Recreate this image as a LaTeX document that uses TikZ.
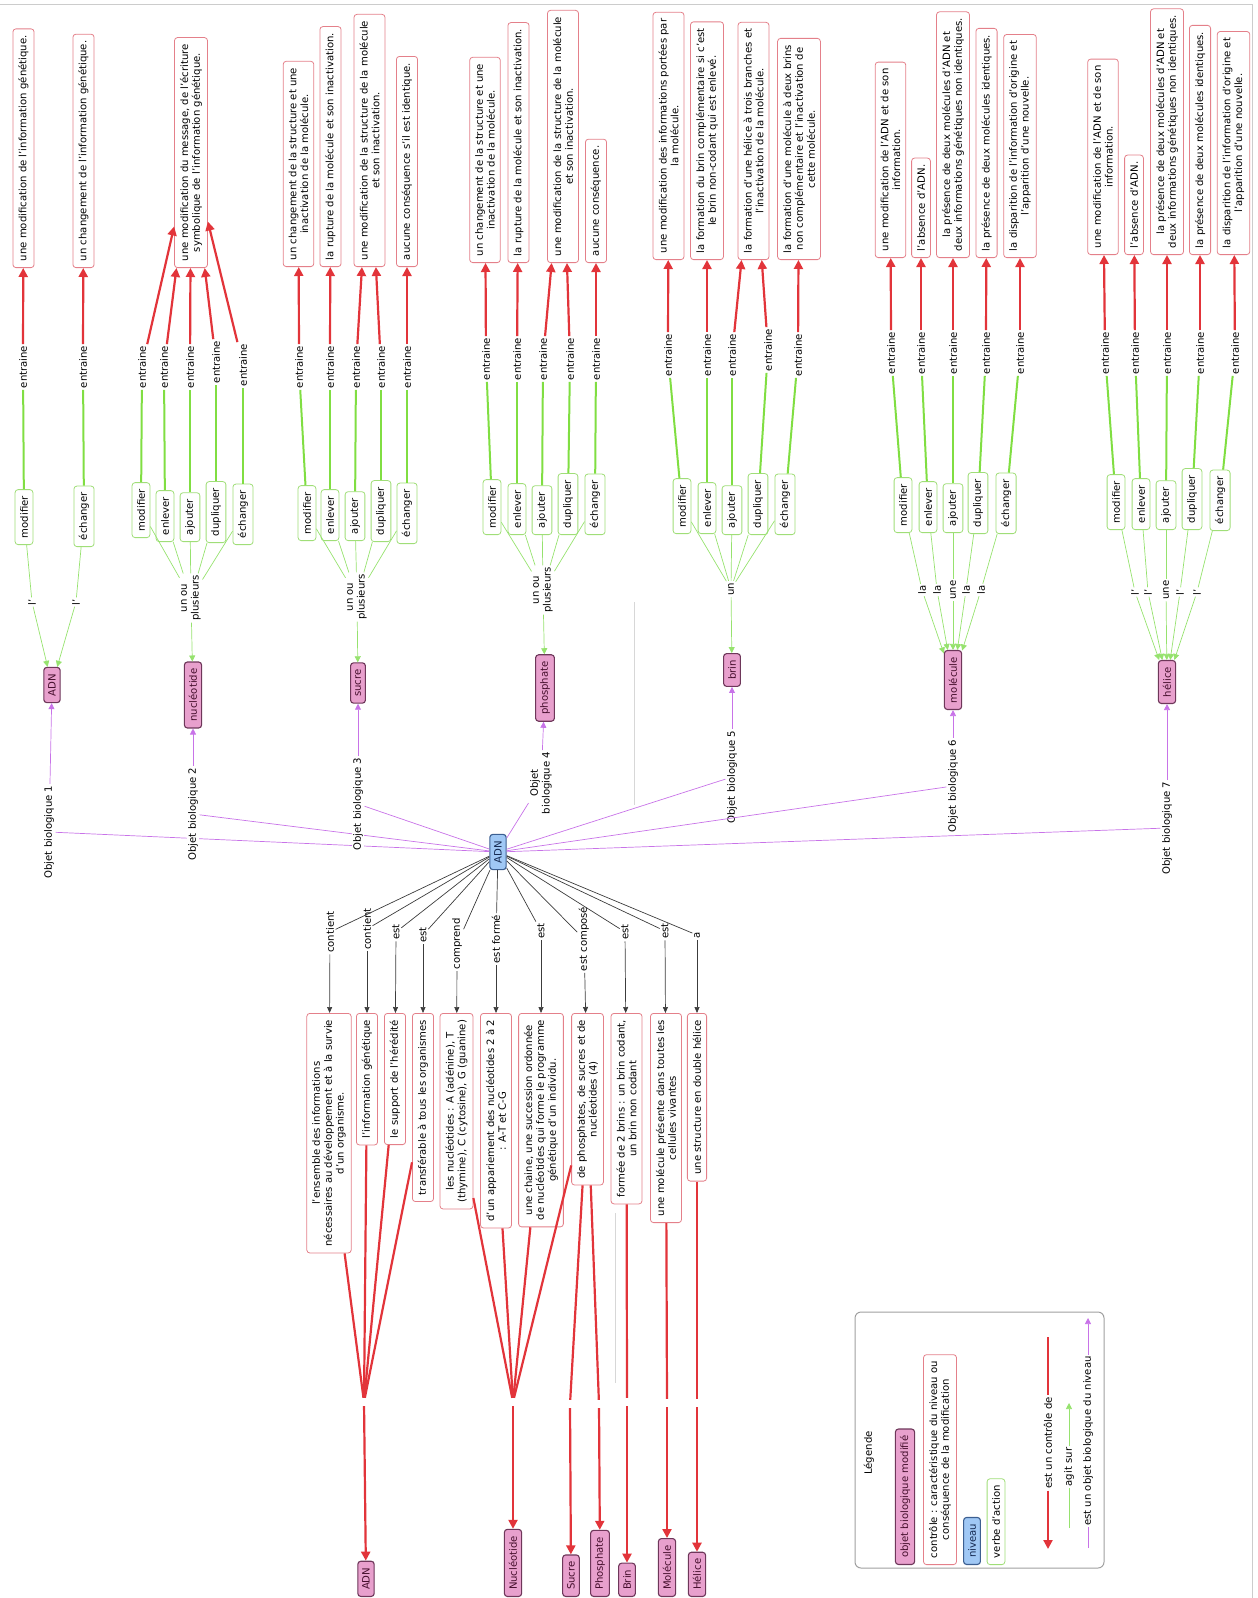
\documentclass[tikz,border=0pt]{standalone}
\usepackage{fontspec}
\setmainfont{DejaVu Sans}
\usetikzlibrary{arrows.meta}
\definecolor{consred}{RGB}{228,128,138}
\definecolor{verbgreen}{RGB}{160,222,120}
\definecolor{objpink}{RGB}{232,160,205}
\definecolor{objborder}{RGB}{110,55,90}
\definecolor{objtext}{RGB}{70,15,45}
\definecolor{lvlblue}{RGB}{160,200,245}
\definecolor{lvlborder}{RGB}{60,95,145}
\definecolor{lvltext}{RGB}{20,40,80}
\definecolor{redc}{RGB}{226,52,58}
\definecolor{greenc}{RGB}{128,222,66}
\definecolor{greenl}{RGB}{150,226,110}
\definecolor{purplec}{RGB}{200,115,232}
\definecolor{blackc}{RGB}{60,60,60}
\definecolor{faint}{RGB}{215,215,215}
\newcommand\myfs{\fontsize{10.1}{11.8}\selectfont}
\begin{document}
\begin{tikzpicture}[x=1pt,y=-1pt,
  every node/.style={font=\myfs},
  cons/.style={rotate=90, draw=consred, fill=white, rounded corners=3pt, line width=0.8pt, inner xsep=6.5pt, inner ysep=5.5pt, align=center},
  verb/.style={rotate=90, draw=verbgreen, fill=white, rounded corners=3pt, line width=0.8pt, inner xsep=6.5pt, inner ysep=5pt, anchor=west},
  obj/.style={rotate=90, draw=objborder, fill=objpink, text=objtext, rounded corners=3pt, line width=1.1pt, inner xsep=6.5pt, inner ysep=4.5pt},
  lvl/.style={rotate=90, draw=lvlborder, fill=lvlblue, text=lvltext, rounded corners=3pt, line width=1.1pt, inner xsep=6.5pt, inner ysep=4.5pt},
  lab/.style={rotate=90, fill=white, inner sep=1.5pt, align=center},
  junc/.style={inner sep=0pt, minimum size=8pt},
  rline/.style={draw=redc, line width=2.2pt},
  rarrow/.style={rline, -{Triangle[length=9pt,width=9pt]}},
  gthick/.style={draw=greenc, line width=2pt},
  gthin/.style={draw=greenl, line width=0.7pt},
  garrow/.style={gthin, -{Triangle[length=6pt,width=6pt]}},
  pline/.style={draw=purplec, line width=0.7pt},
  parrow/.style={pline, -{Triangle[length=6pt,width=6pt]}},
  kline/.style={draw=blackc, line width=0.7pt},
  karrow/.style={kline, -{Triangle[length=6pt,width=5pt]}}
]
\useasboundingbox (0,0) rectangle (1258,1598);
% frame lines
\draw[draw=gray!40, line width=0.8pt] (0,4) -- (1252,4) -- (1252,1598);
\draw[draw=faint, line width=0.8pt] (634,602) -- (634,805);
\draw[draw=faint, line width=0.8pt] (615,1213) -- (615,1383);

% ================= central level
\node[lvl] (adn) at (498,852) {ADN};

% ================= Group 1
\node[cons, anchor=west] (c11) at (23.5,268) {une modification de l'information génétique.};
\node[cons, anchor=west] (c12) at (83.5,268) {un changement de l'information génétique.};
\node[lab] (e11) at (23,367) {entraine};
\node[lab] (e12) at (83,367) {entraine};
\node[verb] (v11) at (24,545) {modifier};
\node[verb] (v12) at (84,547) {échanger};
\node[lab] (l11) at (32,602) {l'};
\node[lab] (l12) at (76,602) {l'};
\node[obj] (o1) at (52,685) {ADN};
\node[lab] (ob1) at (49,832) {Objet biologique 1};
\draw[rarrow] (e11) -- (c11);
\draw[rarrow] (e12) -- (c12);
\draw[gthick] (v11) -- (e11);
\draw[gthick] (v12) -- (e12);
\draw[gthin] (v11) -- (l11);
\draw[gthin] (v12) -- (l12);
\draw[garrow] (l11) -- (o1);
\draw[garrow] (l12) -- (o1);
\draw[pline] (adn) -- (ob1);
\draw[parrow] (ob1) -- (o1);

% ================= Group 2
\node[cons, anchor=west] (c2) at (191,268) {une modification du message, de l'écriture\\symbolique de l'information génétique.};
\node[lab] (e21) at (142,367) {entraine};
\node[lab] (e22) at (164,367) {entraine};
\node[lab] (e23) at (190,367) {entraine};
\node[lab] (e24) at (216,362) {entraine};
\node[lab] (e25) at (243,365) {entraine};
\node[verb] (v21) at (141,538) {modifier};
\node[verb] (v22) at (165,542) {enlever};
\node[verb] (v23) at (190,542) {ajouter};
\node[verb] (v24) at (216,543) {dupliquer};
\node[verb] (v25) at (243,545) {échanger};
\node[lab] (u2) at (191,598) {un ou\\plusieurs};
\node[obj] (o2) at (193,695) {nucléotide};
\node[lab] (ob2) at (193,814) {Objet biologique 2};
\foreach \i in {1,...,5} {
  \draw[rarrow] (e2\i) -- (c2);
  \draw[gthick] (v2\i) -- (e2\i);
  \draw[gthin] (v2\i) -- (u2);
}
\draw[garrow] (u2) -- (o2);
\draw[pline] (adn) -- (ob2);
\draw[parrow] (ob2) -- (o2);

% ================= Group 3
\node[cons, anchor=west] (c31) at (298.5,267) {un changement de la structure et une\\inactivation de la molécule.};
\node[cons, anchor=west] (c32) at (330.5,267) {la rupture de la molécule et son inactivation.};
\node[cons, anchor=west] (c33) at (369.5,267) {une modification de la structure de la molécule\\et son inactivation.};
\node[cons, anchor=west] (c34) at (407,267) {aucune conséquence s'il est identique.};
\node[lab] (e31) at (299,367) {entraine};
\node[lab] (e32) at (330,367) {entraine};
\node[lab] (e33) at (356,367) {entraine};
\node[lab] (e34) at (381,367) {entraine};
\node[lab] (e35) at (407,367) {entraine};
\node[verb] (v31) at (307,541) {modifier};
\node[verb] (v32) at (330,541) {enlever};
\node[verb] (v33) at (355,541) {ajouter};
\node[verb] (v34) at (381,542) {dupliquer};
\node[verb] (v35) at (407,544) {échanger};
\node[lab] (u3) at (357,597) {un ou\\plusieurs};
\node[obj] (o3) at (358,683) {sucre};
\node[lab] (ob3) at (358,804) {Objet biologique 3};
\draw[rarrow] (e31) -- (c31);
\draw[rarrow] (e32) -- (c32);
\draw[rarrow] (e33) -- (c33);
\draw[rarrow] (e34) -- (c33);
\draw[rarrow] (e35) -- (c34);
\foreach \i in {1,...,5} {
  \draw[gthick] (v3\i) -- (e3\i);
  \draw[gthin] (v3\i) -- (u3);
}
\draw[garrow] (u3) -- (o3);
\draw[pline] (adn) -- (ob3);
\draw[parrow] (ob3) -- (o3);

% ================= Group 4
\node[cons, anchor=west] (c41) at (485,263) {un changement de la structure et une\\inactivation de la molécule.};
\node[cons, anchor=west] (c42) at (518.5,263) {la rupture de la molécule et son inactivation.};
\node[cons, anchor=west] (c43) at (563,263) {une modification de la structure de la molécule\\et son inactivation.};
\node[cons, anchor=west] (c44) at (596,263) {aucune conséquence.};
\node[lab] (e41) at (486,359) {entraine};
\node[lab] (e42) at (517,359) {entraine};
\node[lab] (e43) at (543,359) {entraine};
\node[lab] (e44) at (570,359) {entraine};
\node[lab] (e45) at (596,359) {entraine};
\node[verb] (v41) at (492,535) {modifier};
\node[verb] (v42) at (517,535) {enlever};
\node[verb] (v43) at (542,535) {ajouter};
\node[verb] (v44) at (568,535) {dupliquer};
\node[verb] (v45) at (595,535) {échanger};
\node[lab] (u4) at (543,590) {un ou\\plusieurs};
\node[obj] (o4) at (545,688) {phosphate};
\node[lab] (ob4) at (541,783) {Objet\\biologique 4};
\draw[rarrow] (e41) -- (c41);
\draw[rarrow] (e42) -- (c42);
\draw[rarrow] (e43) -- (c43);
\draw[rarrow] (e44) -- (c43);
\draw[rarrow] (e45) -- (c44);
\foreach \i in {1,...,5} {
  \draw[gthick] (v4\i) -- (e4\i);
  \draw[gthin] (v4\i) -- (u4);
}
\draw[garrow] (u4) -- (o4);
\draw[pline] (adn) -- (ob4);
\draw[parrow] (ob4) -- (o4);

% ================= Group 5
\node[cons, anchor=west] (c51) at (668.5,260) {une modification des informations portées par\\la molécule.};
\node[cons, anchor=west] (c52) at (707,260) {la formation du brin complémentaire si c'est\\le brin non-codant qui est enlevé.};
\node[cons, anchor=west] (c53) at (753.5,260) {la formation d'une hélice à trois branches et\\l'inactivation de la molécule.};
\node[cons, anchor=west] (c54) at (799,260) {la formation d'une molécule à deux brins\\non complémentaire et l'inactivation de\\cette molécule.};
\node[lab] (e51) at (668,355) {entraine};
\node[lab] (e52) at (707,355) {entraine};
\node[lab] (e53) at (732,355) {entraine};
\node[lab] (e54) at (768,350) {entraine};
\node[lab] (e55) at (798,355) {entraine};
\node[verb] (v51) at (682,534) {modifier};
\node[verb] (v52) at (707,534) {enlever};
\node[verb] (v53) at (732,535) {ajouter};
\node[verb] (v54) at (758,535) {dupliquer};
\node[verb] (v55) at (785,535) {échanger};
\node[lab] (u5) at (731,589) {un};
\node[obj] (o5) at (732,670) {brin};
\node[lab] (ob5) at (732,777) {Objet biologique 5};
\draw[rarrow] (e51) -- (c51);
\draw[rarrow] (e52) -- (c52);
\draw[rarrow] (e53) -- (c53);
\draw[rarrow] (e54) -- (c53);
\draw[rarrow] (e55) -- (c54);
\foreach \i in {1,...,5} {
  \draw[gthick] (v5\i) -- (e5\i);
  \draw[gthin] (v5\i) -- (u5);
}
\draw[garrow] (u5) -- (o5);
\draw[pline] (adn) -- (ob5);
\draw[parrow] (ob5) -- (o5);

% ================= Group 6
\node[cons, anchor=west] (c61) at (890.5,258) {une modification de l'ADN et de son\\information.};
\node[cons, anchor=west] (c62) at (921,258) {l'absence d'ADN.};
\node[cons, anchor=west] (c63) at (953,258) {la présence de deux molécules d'ADN et\\deux informations génétiques non identiques.};
\node[cons, anchor=west] (c64) at (986.5,258) {la présence de deux molécules identiques.};
\node[cons, anchor=west] (c65) at (1020,258) {la disparition de l'information d'origine et\\l'apparition d'une nouvelle.};
\node[lab] (e61) at (891,353) {entraine};
\node[lab] (e62) at (921,353) {entraine};
\node[lab] (e63) at (953,353) {entraine};
\node[lab] (e64) at (986,353) {entraine};
\node[lab] (e65) at (1020,353) {entraine};
\node[verb] (v61) at (903,533) {modifier};
\node[verb] (v62) at (928,533) {enlever};
\node[verb] (v63) at (953,533) {ajouter};
\node[verb] (v64) at (978,534) {dupliquer};
\node[verb] (v65) at (1006,534) {échanger};
\node[lab] (l61) at (922,590) {la};
\node[lab] (l62) at (937,590) {la};
\node[lab] (l63) at (953,590) {une};
\node[lab] (l64) at (966,590) {la};
\node[lab] (l65) at (981,590) {la};
\node[obj] (o6) at (953,680) {molécule};
\node[lab] (ob6) at (953,786) {Objet biologique 6};
\foreach \i in {1,...,5} {
  \draw[rarrow] (e6\i) -- (c6\i);
  \draw[gthick] (v6\i) -- (e6\i);
  \draw[gthin] (v6\i) -- (l6\i);
  \draw[garrow] (l6\i) -- (o6);
}
\draw[pline] (adn) -- (ob6);
\draw[parrow] (ob6) -- (o6);

% ================= Group 7
\node[cons, anchor=west] (c71) at (1103,255) {une modification de l'ADN et de son\\information.};
\node[cons, anchor=west] (c72) at (1134,255) {l'absence d'ADN.};
\node[cons, anchor=west] (c73) at (1167,255) {la présence de deux molécules d'ADN et\\deux informations génétiques non identiques.};
\node[cons, anchor=west] (c74) at (1200,255) {la présence de deux molécules identiques.};
\node[cons, anchor=west] (c75) at (1233.5,255) {la disparition de l'information d'origine et\\l'apparition d'une nouvelle.};
\node[lab] (e71) at (1105,353) {entraine};
\node[lab] (e72) at (1135,353) {entraine};
\node[lab] (e73) at (1167,353) {entraine};
\node[lab] (e74) at (1200,353) {entraine};
\node[lab] (e75) at (1235,353) {entraine};
\node[verb] (v71) at (1116,530) {modifier};
\node[verb] (v72) at (1141,530) {enlever};
\node[verb] (v73) at (1166,530) {ajouter};
\node[verb] (v74) at (1192,530) {dupliquer};
\node[verb] (v75) at (1220,531) {échanger};
\node[lab] (l71) at (1135,592) {l'};
\node[lab] (l72) at (1148,592) {l'};
\node[lab] (l73) at (1166,590) {une};
\node[lab] (l74) at (1180,592) {l'};
\node[lab] (l75) at (1197,592) {l'};
\node[obj] (o7) at (1167,682) {hélice};
\node[lab] (ob7) at (1167,828) {Objet biologique 7};
\foreach \i in {1,...,5} {
  \draw[rarrow] (e7\i) -- (c7\i);
  \draw[gthick] (v7\i) -- (e7\i);
  \draw[gthin] (v7\i) -- (l7\i);
  \draw[garrow] (l7\i) -- (o7);
}
\draw[pline] (adn) -- (ob7);
\draw[parrow] (ob7) -- (o7);

% ================= Bottom: characteristics
\node[lab] (k1) at (330,932) {contient};
\node[lab] (k2) at (367,929) {contient};
\node[lab] (k3) at (396,932) {est};
\node[lab] (k4) at (423,935) {est};
\node[lab] (k5) at (457,944) {comprend};
\node[lab] (k6) at (496,939) {est formé};
\node[lab] (k7) at (541,931) {est};
\node[lab] (k8) at (584,939) {est composé};
\node[lab] (k9) at (625,932) {est};
\node[lab] (k10) at (665,931) {est};
\node[lab] (k11) at (697,935) {a};

\node[cons, anchor=east] (b1) at (329,1013) {l'ensemble des informations\\nécessaires au développement et à la survie\\d'un organisme.};
\node[cons, anchor=east] (b2) at (367,1013) {l'information génétique};
\node[cons, anchor=east] (b3) at (395,1013) {le support de l'hérédité};
\node[cons, anchor=east] (b4) at (423,1013) {transférable à tous les organismes};
\node[cons, anchor=east] (b5) at (456.5,1013) {les nucléotides : A (adénine), T\\(thymine), C (cytosine), G (guanine)};
\node[cons, anchor=east] (b6) at (496,1013) {d'un appariement des nucléotides 2 à 2\\: A-T et C-G};
\node[cons, anchor=east] (b7) at (541,1013) {une chaine, une succession ordonnée\\de nucléotides qui forme le programme\\génétique d'un individu.};
\node[cons, anchor=east] (b8) at (587.5,1013) {de phosphates, de sucres et de\\nucléotides (4)};
\node[cons, anchor=east] (b9) at (626.5,1013) {formée de 2 brins : un brin codant,\\un brin non codant};
\node[cons, anchor=east] (b10) at (666,1013) {une molécule présente dans toutes les\\cellules vivantes};
\node[cons, anchor=east] (b11) at (697,1013) {une structure en double hélice};

\foreach \i in {1,...,11} {
  \draw[kline] (adn) -- (k\i);
  \draw[karrow] (k\i) -- (b\i);
}

\node[junc] (j1) at (364,1402) {};
\node[junc] (j2) at (513,1402) {};
\node[junc] (js) at (570,1404) {};
\node[junc] (jp) at (599,1404) {};
\node[junc] (jb) at (627,1402) {};
\node[junc] (jm) at (667,1403) {};
\node[junc] (jh) at (697,1403) {};

\node[obj, anchor=west] (n1) at (366,1597) {ADN};
\node[obj, anchor=west] (n2) at (513,1597) {Nucléotide};
\node[obj, anchor=west] (n3) at (571,1597) {Sucre};
\node[obj, anchor=west] (n4) at (600,1597) {Phosphate};
\node[obj, anchor=west] (n5) at (627,1597) {Brin};
\node[obj, anchor=west] (n6) at (667,1597) {Molécule};
\node[obj, anchor=west] (n7) at (697,1597) {Hélice};

\draw[rline] (b1) -- (j1);
\draw[rline] (b2) -- (j1);
\draw[rline] (b3) -- (j1);
\draw[rline] (b4) -- (j1);
\draw[rarrow] (j1) -- (n1);
\draw[rline] (b5) -- (j2);
\draw[rline] (b6) -- (j2);
\draw[rline] (b7) -- (j2);
\draw[rline] (b8) -- (j2);
\draw[rarrow] (j2) -- (n2);
\draw[rline] (b8) -- (js);
\draw[rarrow] (js) -- (n3);
\draw[rline] (b8) -- (jp);
\draw[rarrow] (jp) -- (n4);
\draw[rline] (b9) -- (jb);
\draw[rarrow] (jb) -- (n5);
\draw[rline] (b10) -- (jm);
\draw[rarrow] (jm) -- (n6);
\draw[rline] (b11) -- (jh);
\draw[rarrow] (jh) -- (n7);

% ================= Legend
\draw[draw=gray!75, line width=1pt, rounded corners=6pt] (855,1312) rectangle (1104,1568);
\node[lab] (lg) at (869,1453) {Légende};
\node[obj, anchor=west] (lg1) at (905,1565) {objet biologique modifié};
\node[cons, anchor=west] (lg2) at (940,1565) {contrôle : caractéristique du niveau ou\\conséquence de la modification};
\node[lvl, anchor=west] (lg3) at (972,1565) {niveau};
\node[verb, anchor=west] (lg4) at (996,1565) {verbe d'action};
\coordinate (r0) at (1048,1337);
\coordinate (r1) at (1048,1549);
\node[lab] (rl) at (1048,1443) {est un contrôle de};
\draw[rline] (r0) -- (rl);
\draw[rarrow] (rl) -- (r1);
\coordinate (g0) at (1069,1528);
\coordinate (g1) at (1069,1403);
\node[lab] (gl) at (1069,1467) {agit sur};
\draw[gthin] (g0) -- (gl);
\draw[garrow] (gl) -- (g1);
\coordinate (p0) at (1088,1548);
\coordinate (p1) at (1088,1318);
\node[lab] (pl) at (1088,1441) {est un objet biologique du niveau};
\draw[pline] (p0) -- (pl);
\draw[parrow] (pl) -- (p1);
\end{tikzpicture}
\end{document}
